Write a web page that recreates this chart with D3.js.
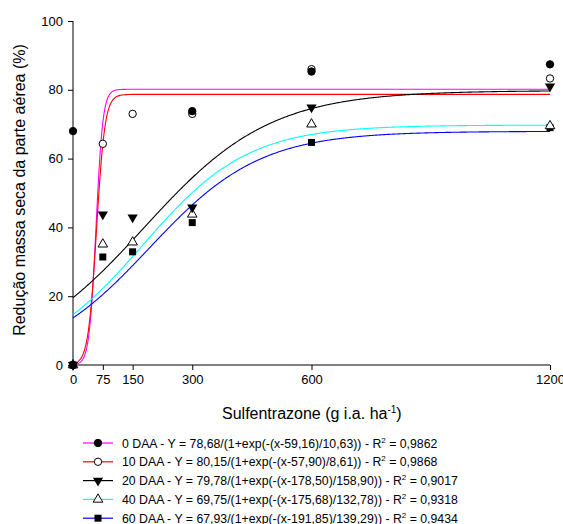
<!DOCTYPE html>
<html lang="pt">
<head>
<meta charset="UTF-8">
<title>Redução massa seca - Sulfentrazone</title>
<script src="https://cdn.jsdelivr.net/npm/d3@7"></script>
<style>
  body { margin: 0; background: #fff; }
  text { font-family: Arial, "Liberation Sans", sans-serif; fill: #000; }
</style>
</head>
<body>
<script>
// doses de sulfentrazone
var doses = [0, 75, 150, 300, 600, 1200];
var xTicks = [0, 75, 150, 300, 600, 1200];
var yTicks = [0, 20, 40, 60, 80, 100];

// valores observados (%)
var obs0 = [[0, 0], [0, 68], [300, 73.8], [600, 85.3], [1200, 87.4]];
var obs10 = [[0, 0], [75, 64.3], [150, 73], [300, 73], [600, 86], [1200, 83.3]];
var obs20 = [[0, 0], [75, 43.8], [150, 42.9], [300, 45.8], [600, 74.9], [1200, 81]];
var obs40 = [[0, 0], [75, 35.1], [150, 35.7], [300, 43.8], [600, 70], [1200, 69.5]];
var obs60 = [[0, 0], [75, 31.4], [150, 32.9], [300, 41.4], [600, 64.7], [1200, 69]];

// parametros do modelo sigmoidal  Y = a/(1+exp(-(x-x0)/b))
var fitParams = [
    {a: 80.15, x0: 57.90, b: 8.61, color: "#ff00ff"},
    {a: 78.68, x0: 59.16, b: 10.63, color: "#ff0000"},
    {a: 79.78, x0: 178.50, b: 158.90, color: "#000000"},
    {a: 69.75, x0: 175.68, b: 132.78, color: "#00ffff"},
    {a: 67.93, x0: 191.85, b: 139.29, color: "#0000ff"}
];

var legendText = [
    "0 DAA - Y = 78,68/(1+exp(-(x-59,16)/10,63)) - R",
    "10 DAA - Y = 80,15/(1+exp(-(x-57,90)/8,61)) - R",
    "20 DAA - Y = 79,78/(1+exp(-(x-178,50)/158,90)) - R",
    "40 DAA - Y = 69,75/(1+exp(-(x-175,68)/132,78)) - R",
    "60 DAA - Y = 67,93/(1+exp(-(x-191,85)/139,29)) - R"
];
var legendR2 = ["0,9862", "0,9868", "0,9017", "0,9318", "0,9434"];
var legendColors = ["#ff00ff", "#ff0000", "#000000", "#00ffff", "#0000ff"];
var legendMarkers = ["circleFill", "circleOpen", "triDown", "triUp", "square"];

var widthSVG = 563, heightSVG = 524;
var svg = d3.select("body").append("svg")
    .attr("width", widthSVG)
    .attr("height", heightSVG);

var x = d3.scaleLinear().domain([0, 1200]).range([73, 550]);
var y = d3.scaleLinear().domain([0, 100]).range([365, 21]);

// eixos
svg.append("g")
    .attr("transform", "translate(0,365)")
    .call(d3.axisBottom(x).tickValues(xTicks).tickSize(5).tickPadding(5).tickFormat(d3.format("d")))
    .call(function (g) {
        g.selectAll("text").attr("font-size", 13);
        g.select(".domain").attr("d", "M73,0H550");
    });

svg.append("g")
    .attr("transform", "translate(73,0)")
    .call(d3.axisLeft(y).tickValues(yTicks).tickSize(5).tickPadding(5))
    .call(function (g) {
        g.selectAll("text").attr("font-size", 13);
        g.select(".domain").attr("d", "M0,21V365");
    });

// titulos
svg.append("text")
    .attr("transform", "translate(25,190) rotate(-90)")
    .attr("text-anchor", "middle")
    .attr("font-size", 16)
    .text("Redução massa seca da parte aérea (%)");

var xt = svg.append("text")
    .attr("x", 222)
    .attr("y", 419)
    .attr("font-size", 16);
xt.append("tspan").text("Sulfentrazone (g i.a. ha");
xt.append("tspan").attr("font-size", 10).attr("dy", -6).text("-1");
xt.append("tspan").attr("dy", 6).text(")");

// curvas ajustadas
var xs = d3.range(0, 1200.5, 2);
var line = d3.line()
    .x(function (d) { return x(d[0]); })
    .y(function (d) { return y(d[1]); });

fitParams.forEach(function (p) {
    var pts = xs.map(function (v) {
        return [v, p.a / (1 + Math.exp(-(v - p.x0) / p.b))];
    });
    svg.append("path")
        .attr("d", line(pts))
        .attr("fill", "none")
        .attr("stroke", p.color)
        .attr("stroke-width", 1.1);
});

// marcadores
function drawMarker(g, type, cx, cy) {
    if (type === "circleFill" || type === "circleOpen") {
        g.append("circle").attr("cx", cx).attr("cy", cy).attr("r", 3.7)
            .attr("fill", type === "circleFill" ? "#000" : "#fff")
            .attr("stroke", "#000").attr("stroke-width", 1);
    } else if (type === "triDown") {
        var s = d3.symbol().type(d3.symbolTriangle).size(45);
        g.append("path").attr("d", s())
            .attr("transform", "translate(" + cx + "," + cy + ") rotate(180)")
            .attr("fill", "#000");
    } else if (type === "triUp") {
        var s2 = d3.symbol().type(d3.symbolTriangle).size(40);
        g.append("path").attr("d", s2())
            .attr("transform", "translate(" + cx + "," + cy + ")")
            .attr("fill", "#fff").attr("stroke", "#000").attr("stroke-width", 1);
    } else {
        g.append("rect").attr("x", cx - 3.5).attr("y", cy - 3.5)
            .attr("width", 7).attr("height", 7).attr("fill", "#000");
    }
}

var series = [obs60, obs40, obs20, obs10, obs0];
var seriesMarkers = ["square", "triUp", "triDown", "circleOpen", "circleFill"];
var gPts = svg.append("g");
series.forEach(function (s, i) {
    s.forEach(function (d) {
        drawMarker(gPts, seriesMarkers[i], x(d[0]), y(d[1]));
    });
});

// legenda
var leg = svg.append("g");
legendText.forEach(function (t, i) {
    var ly = 443 + i * 18.8;
    leg.append("line")
        .attr("x1", 83).attr("x2", 113)
        .attr("y1", ly).attr("y2", ly)
        .attr("stroke", legendColors[i]).attr("stroke-width", 1.2);
    drawMarker(leg, legendMarkers[i], 98, ly);
    var tx = leg.append("text")
        .attr("x", 122).attr("y", ly + 4.5)
        .attr("font-size", 12.3);
    tx.append("tspan").text(t);
    tx.append("tspan").attr("font-size", 8).attr("dy", -5).text("2");
    tx.append("tspan").attr("dy", 5).text(" = " + legendR2[i]);
});
</script>
</body>
</html>
